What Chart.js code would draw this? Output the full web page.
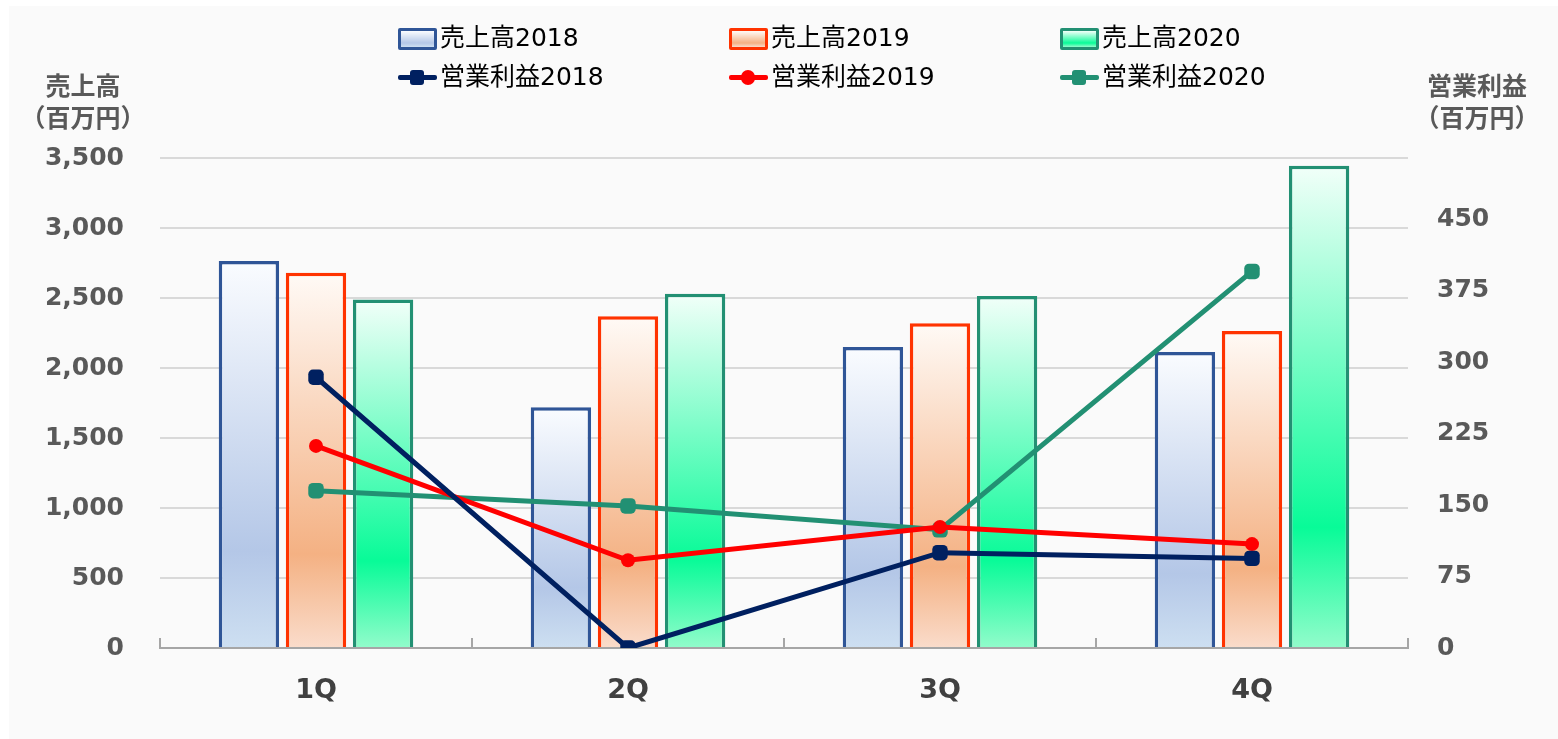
<!DOCTYPE html>
<html>
<head>
<meta charset="utf-8">
<script src="https://cdn.jsdelivr.net/npm/chart.js@4"></script>
<style>
    html, body { margin: 0; padding: 0; background: #fff; }
    #panel { position: absolute; left: 9px; top: 6px; width: 1549px; height: 733px; background: #fafafa; }
    #wrap { position: absolute; left: 0; top: 0; width: 1558px; height: 739px; }
    .axis-title { position: absolute; font-family: "Noto Sans CJK JP", sans-serif; font-weight: bold;
        font-size: 25px; color: #595959; text-align: center; line-height: 32px; }
    .lg { position: absolute; font-family: "DejaVu Sans", "Noto Sans CJK JP", sans-serif; font-size: 25px; color: #000;
        line-height: 30px; white-space: nowrap; }
    .lg .box { position: absolute; left: 0; top: 5px; width: 33px; height: 16px; border: 3px solid; border-radius: 2px; }
    .lg .ln { position: absolute; left: 0; top: 13px; width: 39px; height: 5px; border-radius: 2px; }
    .lg .mk { position: absolute; left: 12px; top: 8px; width: 14px; height: 15px; border-radius: 3px; }
    .lg span.t { position: absolute; left: 42px; top: 0; }
</style>
</head>
<body>
<div id="panel"></div>
<div id="wrap"><canvas id="chart" width="1558" height="739"></canvas></div>
<div class="axis-title" style="left:18px; top:68px; width:130px;">売上高<br>（百万円）</div>
<div class="axis-title" style="left:1412px; top:68px; width:130px;">営業利益<br>（百万円）</div>
<div id="legend"></div>
<script>
    const quarters = ['1Q', '2Q', '3Q', '4Q'];
    const sales2018 = [2765, 1720, 2150, 2115];
    const sales2019 = [2680, 2370, 2320, 2265];
    const sales2020 = [2490, 2530, 2515, 3445];
    const profit2018 = [284, 0, 100, 94];
    const profit2019 = [212, 92, 127, 109];
    const profit2020 = [165, 149, 124, 395];
    const salesTicks = [0, 500, 1000, 1500, 2000, 2500, 3000, 3500];
    const profitTicks = [0, 75, 150, 225, 300, 375, 450];

    // per-bar vertical gradient: light top, strong colour at ~75%, lighter bottom
    function barFill(stops) {
        return function (ctx) {
            const chart = ctx.chart;
            const y = chart.scales.y;
            if (!y || ctx.parsed === undefined || ctx.type !== 'data') return stops[1];
            const top = y.getPixelForValue(ctx.parsed.y);
            const bottom = y.getPixelForValue(0);
            if (!isFinite(top) || !isFinite(bottom) || bottom - top < 1) return stops[1];
            const g = chart.ctx.createLinearGradient(0, top, 0, bottom);
            g.addColorStop(0, stops[0]);
            g.addColorStop(0.75, stops[1]);
            g.addColorStop(1, stops[2]);
            return g;
        };
    }

    const fills = {
        b2018: ['#fafcff', '#b4c7e7', '#cddff1'],
        b2019: ['#fffaf6', '#f4b183', '#fadccb'],
        b2020: ['#f2fff9', '#08fb98', '#92fccb']
    };

    // short inner tick marks on the category boundaries
    const catTicks = {
        id: 'catTicks',
        afterDraw(chart) {
            const x = chart.scales.x, c = chart.ctx;
            const w = (x.right - x.left) / quarters.length;
            c.save();
            c.strokeStyle = '#a6a6a6';
            c.lineWidth = 2;
            for (let i = 0; i <= quarters.length; i++) {
                const px = Math.round(x.left + i * w);
                c.beginPath();
                c.moveTo(px, x.top);
                c.lineTo(px, x.top - 10);
                c.stroke();
            }
            c.restore();
        }
    };

    const tickFont = { family: '"DejaVu Sans", Verdana, sans-serif', weight: 'bold', size: 25 };

    new Chart(document.getElementById('chart'), {
        data: {
            labels: quarters,
            datasets: [
                { type: 'line', label: '営業利益2018', data: profit2018, yAxisID: 'y1', order: 1,
                  borderColor: '#002060', backgroundColor: '#002060', borderWidth: 5,
                  pointStyle: 'rectRounded', pointRadius: 9, pointBorderWidth: 0 },
                { type: 'line', label: '営業利益2019', data: profit2019, yAxisID: 'y1', order: 1,
                  borderColor: '#ff0000', backgroundColor: '#ff0000', borderWidth: 5,
                  pointStyle: 'circle', pointRadius: 7, pointBorderWidth: 0 },
                { type: 'line', label: '営業利益2020', data: profit2020, yAxisID: 'y1', order: 1,
                  borderColor: '#229073', backgroundColor: '#229073', borderWidth: 5,
                  pointStyle: 'rectRounded', pointRadius: 9, pointBorderWidth: 0 },
                { type: 'bar', label: '売上高2018', data: sales2018, yAxisID: 'y', order: 2,
                  backgroundColor: barFill(fills.b2018), borderColor: '#2f5597', borderWidth: 3.5 },
                { type: 'bar', label: '売上高2019', data: sales2019, yAxisID: 'y', order: 2,
                  backgroundColor: barFill(fills.b2019), borderColor: '#ff3300', borderWidth: 3.5 },
                { type: 'bar', label: '売上高2020', data: sales2020, yAxisID: 'y', order: 2,
                  backgroundColor: barFill(fills.b2020), borderColor: '#229073', borderWidth: 3.5 }
            ]
        },
        options: {
            responsive: false,
            animation: false,
            layout: { padding: { top: 158, left: 0, right: 0, bottom: 0 } },
            datasets: { bar: { categoryPercentage: 0.645, barPercentage: 0.9 } },
            plugins: { legend: { display: false }, tooltip: { enabled: false } },
            scales: {
                x: {
                    offset: true,
                    grid: { display: false, drawTicks: false },
                    border: { color: '#a6a6a6', width: 2 },
                    ticks: { padding: 27, color: '#404040',
                             font: { family: '"DejaVu Sans", Verdana, sans-serif', weight: 'bold', size: 27 } },
                    afterFit(s) { s.height = 91; }
                },
                y: {
                    position: 'left', min: 0, max: 3500,
                    afterBuildTicks(s) { s.ticks = salesTicks.map(v => ({ value: v })); },
                    grid: { color: '#d9d9d9', lineWidth: 2, drawTicks: false },
                    border: { display: false },
                    ticks: { padding: 36, color: '#595959', font: tickFont,
                             callback: v => v.toLocaleString('en-US') },
                    afterFit(s) { s.width = 160; }
                },
                y1: {
                    position: 'right', min: 0, max: 514,
                    afterBuildTicks(s) { s.ticks = profitTicks.map(v => ({ value: v })); },
                    grid: { display: false, drawTicks: false },
                    border: { display: false },
                    ticks: { padding: 29, color: '#595959', font: tickFont },
                    afterFit(s) { s.width = 150; }
                }
            }
        },
        plugins: [catTicks]
    });

    // legend laid out like the original: bars on row one, lines on row two
    const legendItems = [
        { kind: 'box', text: '売上高2018', x: 398, y: 23, border: '#2f5597', fill: fills.b2018 },
        { kind: 'box', text: '売上高2019', x: 729, y: 23, border: '#ff3300', fill: fills.b2019 },
        { kind: 'box', text: '売上高2020', x: 1060, y: 23, border: '#229073', fill: fills.b2020 },
        { kind: 'line', text: '営業利益2018', x: 398, y: 62, color: '#002060' },
        { kind: 'line', text: '営業利益2019', x: 729, y: 62, color: '#ff0000', round: true },
        { kind: 'line', text: '営業利益2020', x: 1060, y: 62, color: '#229073' }
    ];
    const legend = document.getElementById('legend');
    for (const it of legendItems) {
        const d = document.createElement('div');
        d.className = 'lg';
        d.style.left = it.x + 'px';
        d.style.top = it.y + 'px';
        if (it.kind === 'box') {
            d.innerHTML = '<div class="box" style="border-color:' + it.border + ';background:linear-gradient(' +
                it.fill[0] + ',' + it.fill[1] + ' 75%,' + it.fill[2] + ')"></div>';
        } else {
            d.innerHTML = '<div class="ln" style="background:' + it.color + '"></div>' +
                '<div class="mk" style="background:' + it.color + (it.round ? ';border-radius:7px' : '') + '"></div>';
        }
        const t = document.createElement('span');
        t.className = 't';
        t.textContent = it.text;
        d.appendChild(t);
        legend.appendChild(d);
    }
</script>
</body>
</html>
